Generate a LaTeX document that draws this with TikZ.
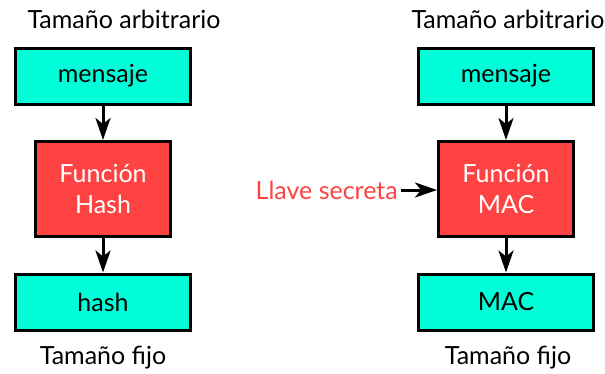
\documentclass[tikz,border=0pt]{standalone}
\usepackage{fontspec}
\setmainfont{Lato}
\usetikzlibrary{positioning,arrows.meta}
\definecolor{aqua}{HTML}{00FFD8}
\definecolor{rojo}{HTML}{FF4242}
\tikzset{
  caja/.style={draw=black, line width=3pt, fill=aqua, minimum width=175pt, minimum height=56pt, inner sep=0pt, font=\fontsize{25}{28}\selectfont},
  funcion/.style={draw=black, line width=3pt, fill=rojo, text=white, minimum width=135pt, minimum height=95pt, inner sep=0pt, align=center, font=\fontsize{25}{31}\selectfont},
  rotulo/.style={font=\fontsize{25}{28}\selectfont},
  flecha/.style={line width=3pt, -{Stealth[length=22pt, width=15pt, inset=6pt]}}
}

\begin{document}
\begin{tikzpicture}[x=1pt, y=-1pt]
\useasboundingbox (0,0) rectangle (605,373);

% Draw hash column.
\node[rotulo] (arbA) at (124,19) {Tamaño arbitrario};
\node[caja] (msjA) at (103,76) {mensaje};
\node[funcion] (hash) at (103,189) {Función\\Hash};
\node[caja] (outA) at (103,302) {hash};
\node[rotulo] (fijoA) at (103,358) {Tamaño fijo};
\draw[flecha] (msjA) -- (hash);
\draw[flecha] (hash) -- (outA);

% Draw MAC column.
\node[rotulo] (arbB) at (508,19) {Tamaño arbitrario};
\node[caja] (msjB) at (506,76) {mensaje};
\node[funcion] (mac) at (506,189) {Función\\MAC};
\node[caja] (outB) at (506,302) {MAC};
\node[rotulo] (fijoB) at (508,358) {Tamaño fijo};
\draw[flecha] (msjB) -- (mac);
\draw[flecha] (mac) -- (outB);

% Draw key input.
\node[rotulo, text=rojo, anchor=east, inner sep=0pt] (llave) at (398,190) {Llave secreta};
\draw[flecha] ([xshift=3pt]llave.east) -- (mac.west |- llave.east);
\end{tikzpicture}
\end{document}
